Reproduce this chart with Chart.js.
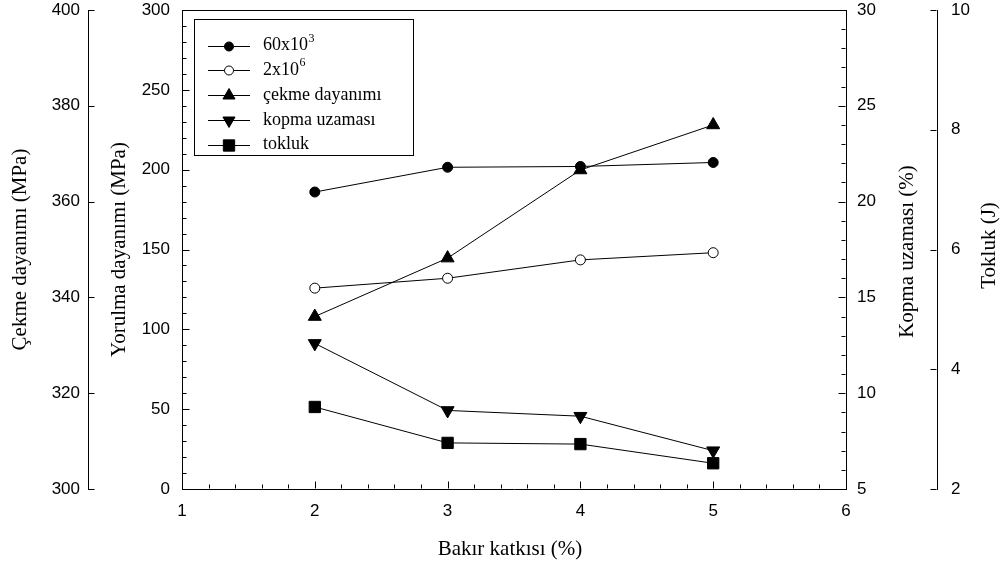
<!DOCTYPE html>
<html><head><meta charset="utf-8">
<script src="https://cdn.jsdelivr.net/npm/chart.js@4/dist/chart.umd.min.js"></script>
<style>html,body{margin:0;padding:0;background:#fff;overflow:hidden}#wrap{width:1007px;height:569px;position:relative}</style>
</head><body><div id="wrap"><canvas id="c" width="1007" height="569"></canvas></div>
<script>
// ---- data ----
const copperPct   = [2, 3, 4, 5];
const fatigue60k  = [186, 201.5, 202, 204.5];   // Yorulma dayanımı (MPa), 60x10^3 cycles
const fatigue2M   = [125.8, 132, 143.5, 148];   // Yorulma dayanımı (MPa), 2x10^6 cycles
const tensile     = [336, 348.2, 366.6, 376];   // Çekme dayanımı (MPa)
const elongation  = [12.6, 9.1, 8.8, 7.0];      // Kopma uzaması (%)
const toughness   = [3.37, 2.77, 2.75, 2.43];   // Tokluk (J)
const seriesLabels = ['60x10³', '2x10⁶', 'çekme dayanımı', 'kopma uzaması', 'tokluk'];

const xTickVals        = [1, 2, 3, 4, 5, 6];
const fatigueTickVals  = [0, 50, 100, 150, 200, 250, 300];
const tensileTickVals  = [300, 320, 340, 360, 380, 400];
const elongTickVals    = [5, 10, 15, 20, 25, 30];
const toughTickVals    = [2, 4, 6, 8, 10];

const xTitle = 'Bakır katkısı (%)';
const fatigueTitle = 'Yorulma dayanımı (MPa)';
const tensileTitle = 'Çekme dayanımı (MPa)';
const elongTitle = 'Kopma uzaması (%)';
const toughTitle = 'Tokluk (J)';

const pts = (ys) => copperPct.map((x, i) => ({x, y: ys[i]}));
const setTicks = (vals) => (scale) => { scale.ticks = vals.map(v => ({value: v})); };

const TICK_FONT = {family: '"Liberation Sans", Arial, sans-serif', size: 17};
const TITLE_FONT = '21px "Liberation Serif", "Times New Roman", serif';

function mkDS(label, data, axis, style, fill, radius, rot) {
  return {
    label, data, yAxisID: axis, xAxisID: 'x',
    borderColor: '#000', borderWidth: 1, backgroundColor: fill,
    pointStyle: style, pointRadius: radius, pointHoverRadius: radius,
    pointRotation: rot || 0, pointBackgroundColor: fill, pointBorderColor: '#000',
    pointBorderWidth: 1, showLine: true, tension: 0, fill: false
  };
}

// ---- plugins ----
const tickPlugin = {
  id: 'inwardTicks',
  afterDraw(chart) {
    const ctx = chart.ctx;
    const s = chart.scales;
    ctx.save();
    ctx.strokeStyle = '#000';
    ctx.lineWidth = 1;
    const vert = (scale, xEdge, dir, vals, majorLen, minorStep, minorLen) => {
      const x = Math.round(xEdge) + 0.5 - (dir < 0 ? 1 : 0);
      const draw = (v, len) => {
        const y = Math.round(scale.getPixelForValue(v)) + 0.5;
        ctx.beginPath(); ctx.moveTo(x, y); ctx.lineTo(x + dir * len, y); ctx.stroke();
      };
      vals.forEach(v => draw(v, majorLen));
      if (minorStep) {
        const lo = vals[0], hi = vals[vals.length - 1];
        const n = Math.round((hi - lo) / minorStep);
        for (let i = 1; i < n; i++) {
          const v = lo + i * minorStep;
          if (vals.some(m => Math.abs(m - v) < 1e-9)) continue;
          draw(v, minorLen);
        }
      }
    };
    vert(s.yC, s.yC.right, 1, tensileTickVals, 6, 0, 0);
    vert(s.yY, s.yY.right, 1, fatigueTickVals, 7, 10, 4);
    vert(s.yK, s.yK.left, -1, elongTickVals, 7, 1, 4);
    vert(s.yT, s.yT.left, -1, toughTickVals, 6, 0, 0);
    // x axis, upward
    const yb = Math.round(s.x.top) - 0.5;
    const drawX = (v, len) => {
      const x = Math.round(s.x.getPixelForValue(v)) + 0.5;
      ctx.beginPath(); ctx.moveTo(x, yb); ctx.lineTo(x, yb - len); ctx.stroke();
    };
    xTickVals.forEach(v => drawX(v, 7));
    for (let i = 1; i < 25; i++) { if (i % 5) drawX(1 + i * 0.2, 4); }
    // top border of plot
    const ca = chart.chartArea;
    ctx.beginPath();
    ctx.moveTo(Math.round(ca.left), Math.round(ca.top) + 0.5);
    ctx.lineTo(Math.round(ca.right), Math.round(ca.top) + 0.5);
    ctx.stroke();
    ctx.restore();
  }
};

const titlePlugin = {
  id: 'axisTitles',
  afterDraw(chart) {
    const ctx = chart.ctx, s = chart.scales, ca = chart.chartArea;
    ctx.save();
    ctx.fillStyle = '#000';
    ctx.font = TITLE_FONT;
    ctx.textAlign = 'center';
    ctx.textBaseline = 'middle';
    const cy = (ca.top + ca.bottom) / 2;
    const vt = (txt, x, y) => { ctx.save(); ctx.translate(x, y); ctx.rotate(-Math.PI / 2); ctx.fillText(txt, 0, 0); ctx.restore(); };
    vt(tensileTitle, s.yC.left + 20, cy);
    vt(fatigueTitle, s.yY.left + 31, cy);
    vt(elongTitle, s.yK.left + 61, cy + 2);
    vt(toughTitle, s.yT.left + 52, cy - 4);
    ctx.fillText(xTitle, (ca.left + ca.right) / 2 - 4, s.x.top + 60);
    ctx.restore();
  }
};

function drawMarker(ctx, style, rot, r, x, y) {
  ctx.beginPath();
  if (style === 'circle') {
    ctx.arc(x, y, r, 0, Math.PI * 2);
  } else if (style === 'triangle') {
    let a = rot * Math.PI / 180;
    for (let k = 0; k < 3; k++) {
      const px = x + Math.sin(a) * r, py = y - Math.cos(a) * r;
      if (k === 0) ctx.moveTo(px, py); else ctx.lineTo(px, py);
      a += 2 * Math.PI / 3;
    }
    ctx.closePath();
  } else if (style === 'rect') {
    const h = Math.SQRT1_2 * r;
    ctx.rect(x - h, y - h, 2 * h, 2 * h);
  }
  ctx.fill();
  ctx.stroke();
}

const supMap = {'³': '3', '⁶': '6'};
const legendPlugin = {
  id: 'boxLegend',
  afterDraw(chart) {
    const ctx = chart.ctx;
    ctx.save();
    ctx.strokeStyle = '#000';
    ctx.lineWidth = 1;
    ctx.strokeRect(194.5, 19.5, 219, 136);
    chart.data.datasets.forEach((ds, i) => {
      const cy = 45.5 + i * 24.8;
      const ly = Math.round(cy) + 0.5;
      ctx.beginPath(); ctx.moveTo(208, ly); ctx.lineTo(250, ly); ctx.stroke();
      ctx.fillStyle = ds.pointBackgroundColor;
      drawMarker(ctx, ds.pointStyle, ds.pointRotation, ds.legendRadius, 229, ly);
      ctx.fillStyle = '#000';
      ctx.textAlign = 'left';
      ctx.textBaseline = 'middle';
      let base = ds.label, sup = '';
      const last = base.slice(-1);
      if (supMap[last]) { sup = supMap[last]; base = base.slice(0, -1); }
      ctx.font = '18px "Liberation Serif", "Times New Roman", serif';
      ctx.fillText(base, 263, cy);
      if (sup) {
        const w = ctx.measureText(base).width;
        ctx.font = '12px "Liberation Serif", "Times New Roman", serif';
        ctx.fillText(sup, 263 + w + 0.5, cy - 7);
      }
    });
    ctx.restore();
  }
};

const datasets = [
  Object.assign(mkDS(seriesLabels[0], pts(fatigue60k), 'yY', 'circle', '#000', 5, 0), {legendRadius: 4.5}),
  Object.assign(mkDS(seriesLabels[1], pts(fatigue2M), 'yY', 'circle', '#fff', 5, 0), {legendRadius: 4.5}),
  Object.assign(mkDS(seriesLabels[2], pts(tensile), 'yC', 'triangle', '#000', 7.5, 0), {legendRadius: 7}),
  Object.assign(mkDS(seriesLabels[3], pts(elongation), 'yK', 'triangle', '#000', 7.5, 180), {legendRadius: 7}),
  Object.assign(mkDS(seriesLabels[4], pts(toughness), 'yT', 'rect', '#000', 8, 0), {legendRadius: 8})
];

const yBase = (pos, weight, min, max, vals, width, pad) => ({
  type: 'linear', position: pos, weight, min, max,
  afterBuildTicks: setTicks(vals),
  afterFit: (sc) => { sc.width = width; sc.paddingTop = 0; sc.paddingBottom = 0; },
  grid: {display: false, drawTicks: false},
  border: {display: true, color: '#000', width: 1},
  ticks: {autoSkip: false, padding: pad, color: '#000', font: TICK_FONT, maxRotation: 0},
  title: {display: false}
});

new Chart(document.getElementById('c'), {
  type: 'scatter',
  data: {datasets},
  options: {
    responsive: false,
    animation: false,
    devicePixelRatio: 1,
    layout: {padding: {top: 10, left: 0, right: 0, bottom: 0}},
    plugins: {legend: {display: false}, tooltip: {enabled: false}},
    scales: {
      x: {
        type: 'linear', position: 'bottom', min: 1, max: 6,
        afterBuildTicks: setTicks(xTickVals),
        afterFit: (sc) => { sc.height = 80; sc.paddingLeft = 0; sc.paddingRight = 0; },
        grid: {display: false, drawTicks: false},
        border: {display: true, color: '#000', width: 1},
        ticks: {autoSkip: false, padding: 12, color: '#000', font: TICK_FONT, maxRotation: 0},
        title: {display: false}
      },
      yY: yBase('left', 0, 0, 300, fatigueTickVals, 94, 12),
      yC: yBase('left', 1, 300, 400, tensileTickVals, 88, 8),
      yK: yBase('right', 0, 5, 30, elongTickVals, 91, 11),
      yT: yBase('right', 1, 2, 10, toughTickVals, 70, 14)
    }
  },
  plugins: [tickPlugin, titlePlugin, legendPlugin]
});
</script>
</body></html>
